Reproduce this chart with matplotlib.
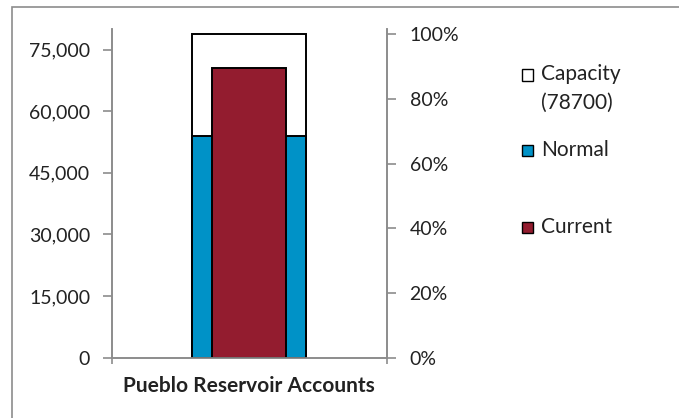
import matplotlib
matplotlib.use("Agg")
import matplotlib.pyplot as plt
from matplotlib.patches import Rectangle
from matplotlib.ticker import FuncFormatter

# Data
category = ["Pueblo Reservoir Accounts"]
capacity = [78700]
normal = [54000]
current = [70500]
left_ticks = [0, 15000, 30000, 45000, 60000, 75000]
right_ticks = [0, 0.2, 0.4, 0.6, 0.8, 1.0]
left_max = 80000
legend_labels = [["Capacity", "(78700)"], ["Normal"], ["Current"]]

plt.rcParams['font.family'] = ['Lato', 'DejaVu Sans']
W, H = 679, 418
fig = plt.figure(figsize=(W / 100, H / 100), dpi=100)

gray = "#8c8c8c"
blue = "#0092C7"
maroon = "#931C2F"
txt = "#222222"

# outer chart frame
fig.patches.append(Rectangle((12 / W, -0.2), 1.2, 1.2 - 7 / H,
                             transform=fig.transFigure, fill=False,
                             edgecolor=gray, lw=1.2, figure=fig))

ax = fig.add_axes([111.7 / W, 1 - 357.7 / H, 275 / W, (357.7 - 29) / H])
x = list(range(len(category)))
ax.bar(x, capacity, width=0.415, color="white", edgecolor="black", lw=1.4, zorder=2)
ax.bar(x, normal, width=0.415, color=blue, edgecolor="black", lw=1.4, zorder=3)
ax.bar(x, current, width=0.27, color=maroon, edgecolor="black", lw=1.4, zorder=4)

ax.set_xlim(-0.5, 0.5)
ax.set_ylim(0, left_max)
ax.set_yticks(left_ticks)
ax.yaxis.set_major_formatter(FuncFormatter(lambda v, p: f"{int(v):,}"))
ax.set_xticks(x)
ax.set_xticklabels(category, fontweight="bold", fontsize=15, color=txt)
ax.set_xticks([-0.5, 0.5], minor=True)
ax.tick_params(axis="x", which="major", length=0, pad=13)
ax.tick_params(axis="x", which="minor", length=4, color=gray, width=1.2, direction="out")
ax.tick_params(axis="y", length=6.5, color=gray, width=1.2, labelsize=14,
               pad=9, labelcolor=txt)

ax2 = ax.twinx()
ax2.set_ylim(0, left_max / capacity[0])
ax2.set_yticks(right_ticks)
ax2.yaxis.set_major_formatter(FuncFormatter(lambda v, p: f"{int(round(v * 100))}%"))
ax2.tick_params(axis="y", length=6.5, color=gray, width=1.2, labelsize=14,
                pad=10, labelcolor=txt)

for a in (ax, ax2):
    a.spines["top"].set_visible(False)
    for s in ("left", "right", "bottom"):
        a.spines[s].set_color(gray)
        a.spines[s].set_linewidth(1.2)

# legend (manual)
legend_colors = ["white", blue, maroon]
legend_y = [74.5, 150, 227]
for lines, col, yy in zip(legend_labels, legend_colors, legend_y):
    fig.patches.append(Rectangle((521.7 / W, 1 - (yy + 6) / H), 11.5 / W, 11.5 / H,
                                 transform=fig.transFigure, facecolor=col,
                                 edgecolor="black", lw=1.0, figure=fig))
    for i, line in enumerate(lines):
        fig.text(541 / W, 1 - (yy + 28 * i) / H, line, ha="left", va="center",
                 fontsize=15, color=txt)

fig.savefig("out.png", dpi=100)
